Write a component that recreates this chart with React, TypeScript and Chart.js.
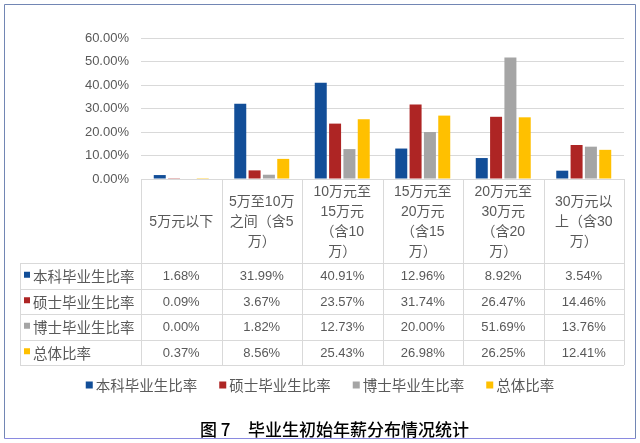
import React, { useEffect, useRef } from 'react';
import { Chart, registerables } from 'chart.js';
Chart.register(...registerables);

const categories: string[][] = [
  ['5万元以下'],
  ['5万至10万', '之间（含5', '万）'],
  ['10万元至', '15万元', '（含10', '万）'],
  ['15万元至', '20万元', '（含15', '万）'],
  ['20万元至', '30万元', '（含20', '万）'],
  ['30万元以', '上（含30', '万）'],
];
const seriesNames = ['本科毕业生比率', '硕士毕业生比率', '博士毕业生比率', '总体比率'];
const seriesColors = ['#124E98', '#AE2524', '#A5A5A5', '#FFC000'];
const bachelor = [1.68, 31.99, 40.91, 12.96, 8.92, 3.54];
const master = [0.09, 3.67, 23.57, 31.74, 26.47, 14.46];
const doctor = [0.0, 1.82, 12.73, 20.0, 51.69, 13.76];
const overall = [0.37, 8.56, 25.43, 26.98, 26.25, 12.41];
const yMax = 60;
const yStep = 10;
const titleNum = '图 7';
const titleText = '毕业生初始年薪分布情况统计';

const seriesValues = [bachelor, master, doctor, overall];
const FONT = '"Liberation Sans", "Noto Sans CJK SC", sans-serif';
const CJK = '"Noto Sans CJK SC", sans-serif';
const TEXT = '#595959';
const GRID = '#D9D9D9';

const tablePlugin = {
  id: 'tablePlugin',
  beforeDraw(chart: any) {
    const ctx = chart.ctx;
    ctx.save();
    ctx.fillStyle = '#FFFFFF';
    ctx.fillRect(0, 0, chart.width, chart.height);
    ctx.restore();
  },
  afterDraw(chart: any) {
    const ctx = chart.ctx;
    const area = chart.chartArea;
    const xs = chart.scales.x;
    const n = categories.length;
    const cw = (area.right - area.left) / n;
    const headerTop = area.bottom;
    const headerBottom = headerTop + 84;
    const rowH = 25.5;
    const tableBottom = headerBottom + rowH * seriesValues.length;
    const labelLeft = 20;
    ctx.save();
    ctx.strokeStyle = GRID;
    ctx.lineWidth = 1;
    ctx.beginPath();
    for (let i = 0; i <= n; i++) {
      const x = Math.round(area.left + cw * i) + 0.5;
      ctx.moveTo(x, headerTop);
      ctx.lineTo(x, tableBottom);
    }
    ctx.moveTo(labelLeft + 0.5, headerBottom);
    ctx.lineTo(labelLeft + 0.5, tableBottom);
    for (let r = 0; r <= seriesValues.length; r++) {
      const y = Math.round(headerBottom + rowH * r) + 0.5;
      ctx.moveTo(labelLeft, y);
      ctx.lineTo(area.right, y);
    }
    ctx.stroke();

    // header text
    ctx.fillStyle = TEXT;
    ctx.textAlign = 'center';
    ctx.textBaseline = 'middle';
    ctx.font = `14px ${FONT}`;
    const lh = 20;
    const hc = (headerTop + headerBottom) / 2 + 1;
    categories.forEach((lines, i) => {
      const cx = xs.getPixelForValue(i);
      const y0 = hc - ((lines.length - 1) * lh) / 2;
      lines.forEach((t, k) => ctx.fillText(t, cx, y0 + k * lh));
    });

    // rows
    seriesValues.forEach((vals, r) => {
      const cy = headerBottom + rowH * r + rowH / 2 + 1;
      ctx.font = `13px ${FONT}`;
      ctx.textAlign = 'center';
      ctx.fillStyle = TEXT;
      vals.forEach((v, i) => ctx.fillText(v.toFixed(2) + '%', xs.getPixelForValue(i), cy));
      ctx.fillStyle = seriesColors[r];
      ctx.fillRect(labelLeft + 4, cy - 5, 6, 6);
      ctx.fillStyle = TEXT;
      ctx.textAlign = 'left';
      ctx.font = `14.5px ${CJK}`;
      ctx.fillText(seriesNames[r], labelLeft + 13, cy);
    });

    // legend (centered)
    ctx.font = `14.5px ${CJK}`;
    ctx.textBaseline = 'middle';
    ctx.textAlign = 'left';
    const mk = 7, mgap = 3, igap = 22;
    const widths = seriesNames.map((s) => mk + mgap + ctx.measureText(s).width);
    const total = widths.reduce((a, b) => a + b, 0) + igap * (seriesNames.length - 1);
    let lx = chart.width / 2 - total / 2;
    const ly = 385;
    seriesNames.forEach((name, i) => {
      ctx.fillStyle = seriesColors[i];
      ctx.fillRect(lx, ly - 3.5, mk, mk);
      ctx.fillStyle = TEXT;
      ctx.fillText(name, lx + mk + mgap, ly);
      lx += widths[i] + igap;
    });

    // title
    ctx.fillStyle = '#000000';
    ctx.font = `500 17px ${CJK}`;
    ctx.textBaseline = 'middle';
    ctx.fillText(titleNum, 200, 430);
    ctx.fillText(titleText, 248, 430);

    // border
    ctx.strokeStyle = '#7286B4';
    ctx.lineWidth = 1;
    ctx.beginPath();
    ctx.moveTo(4.5, 438.5);
    ctx.lineTo(4.5, 4.5);
    ctx.lineTo(635.5, 4.5);
    ctx.lineTo(635.5, 438.5);
    ctx.stroke();
    ctx.strokeStyle = '#8A8AE0';
    ctx.beginPath();
    ctx.moveTo(4.5, 438.5);
    ctx.lineTo(635.5, 438.5);
    ctx.stroke();
    ctx.restore();
  },
};

export default function App() {
  const ref = useRef<HTMLCanvasElement | null>(null);
  useEffect(() => {
    if (!ref.current) return;
    const chart = new Chart(ref.current, {
      type: 'bar',
      data: {
        labels: categories.map((c) => c.join('')),
        datasets: seriesNames.map((name, i) => ({
          label: name,
          data: seriesValues[i],
          backgroundColor: seriesColors[i],
          borderWidth: 0,
          barPercentage: 0.837,
          categoryPercentage: 0.712,
        })),
      },
      options: {
        animation: false,
        responsive: false,
        devicePixelRatio: 1,
        layout: { padding: { top: 38, left: 0, right: 16, bottom: 264 } },
        plugins: { legend: { display: false }, title: { display: false }, tooltip: { enabled: false } },
        scales: {
          x: { display: false },
          y: {
            min: 0,
            max: yMax,
            ticks: {
              stepSize: yStep,
              padding: 12,
              color: TEXT,
              font: { size: 13, family: FONT },
              callback: (v: any) => Number(v).toFixed(2) + '%',
            },
            grid: { color: GRID, drawTicks: false },
            border: { display: false },
            afterFit: (s: any) => {
              s.width = 141;
            },
          },
        },
      },
      plugins: [tablePlugin],
    });
    return () => chart.destroy();
  }, []);
  return (
    <div style={{ position: 'fixed', left: 0, top: 0, width: 640, height: 443, background: '#fff' }}>
      <canvas ref={ref} width={640} height={443} style={{ width: 640, height: 443 }} />
    </div>
  );
}
